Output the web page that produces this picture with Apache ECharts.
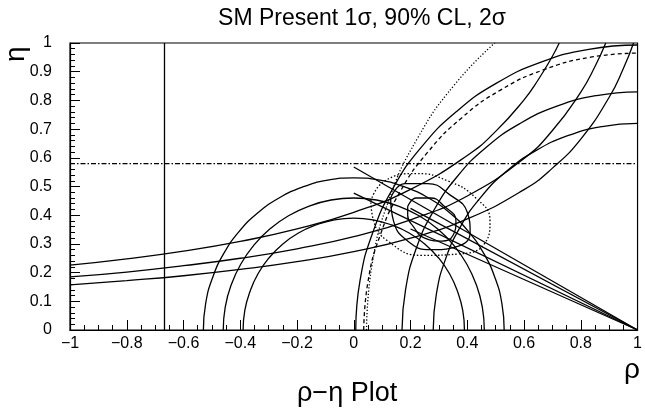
<!DOCTYPE html>
<html><head><meta charset="utf-8">
<script src="https://cdn.jsdelivr.net/npm/echarts@6/dist/echarts.min.js"></script>
<style>html,body{margin:0;padding:0;background:#fff}#c{width:645px;height:417px}</style>
</head><body><div id="c"></div>
<script>
// tick labels
const xTicks = [-1,-0.8,-0.6,-0.4,-0.2,0,0.2,0.4,0.6,0.8,1];
const yTicks = [0,0.1,0.2,0.3,0.4,0.5,0.6,0.7,0.8,0.9,1];
// |Vub/Vcb| circles around (0,0)
const vub1 = [[0.39,0],[0.384,0.068],[0.366,0.133],[0.338,0.195],[0.299,0.251],[0.251,0.299],[0.195,0.338],[0.133,0.366],[0.068,0.384],[0,0.39],[-0.068,0.384],[-0.133,0.366],[-0.195,0.338],[-0.251,0.299],[-0.299,0.251],[-0.338,0.195],[-0.366,0.133],[-0.384,0.068],[-0.39,0]];
const vub2 = [[0.46,0],[0.453,0.08],[0.432,0.157],[0.398,0.23],[0.352,0.296],[0.296,0.352],[0.23,0.398],[0.157,0.432],[0.08,0.453],[0,0.46],[-0.08,0.453],[-0.157,0.432],[-0.23,0.398],[-0.296,0.352],[-0.352,0.296],[-0.398,0.23],[-0.432,0.157],[-0.453,0.08],[-0.46,0]];
const vub3 = [[0.53,0],[0.522,0.092],[0.498,0.181],[0.459,0.265],[0.406,0.341],[0.341,0.406],[0.265,0.459],[0.181,0.498],[0.092,0.522],[0,0.53],[-0.092,0.522],[-0.181,0.498],[-0.265,0.459],[-0.341,0.406],[-0.406,0.341],[-0.459,0.265],[-0.498,0.181],[-0.522,0.092],[-0.53,0]];
// Delta m_d circles around (1,0)
const dmd1 = [[0.28,0],[0.291,0.125],[0.323,0.246],[0.376,0.36],[0.448,0.463],[0.537,0.552],[0.64,0.624],[0.754,0.677],[0.875,0.709],[1,0.72]];
const dmd2 = [[0.17,0],[0.183,0.144],[0.22,0.284],[0.281,0.415],[0.364,0.534],[0.466,0.636],[0.585,0.719],[0.716,0.78],[0.856,0.817],[1,0.83]];
const dmd3 = [[0.007,0],[0.022,0.172],[0.067,0.34],[0.14,0.497],[0.239,0.638],[0.362,0.761],[0.503,0.86],[0.66,0.933],[0.828,0.978],[1,0.993]];
const dmdDashed = [[0.035,0],[0.05,0.168],[0.093,0.33],[0.164,0.483],[0.261,0.62],[0.38,0.739],[0.517,0.836],[0.67,0.907],[0.832,0.95],[1,0.965]];
const dmsDotted = [[0.045,0],[0.065,0.231],[0.125,0.456],[0.224,0.667],[0.357,0.857],[0.497,1.0]];
// epsilon_K hyperbolas
const epsK1 = [[-1,0.226],[-0.8,0.248],[-0.6,0.275],[-0.4,0.309],[-0.2,0.352],[0,0.41],[0.2,0.49],[0.4,0.608],[0.5,0.692],[0.6,0.802],[0.65,0.872],[0.7,0.954],[0.724,1.0]];
const epsK2 = [[-1,0.185],[-0.8,0.202],[-0.6,0.224],[-0.4,0.25],[-0.2,0.283],[0,0.325],[0.2,0.384],[0.4,0.467],[0.6,0.598],[0.7,0.695],[0.8,0.829],[0.85,0.918],[0.888,1.0]];
const epsK3 = [[-1,0.157],[-0.8,0.172],[-0.6,0.189],[-0.4,0.211],[-0.2,0.238],[0,0.273],[0.2,0.32],[0.4,0.387],[0.6,0.489],[0.7,0.564],[0.8,0.665],[0.9,0.811],[0.95,0.911],[0.986,1.0]];
// sin2beta lines from (1,0)
const sb1 = [[0.0,0.568],[1,0]];
const sb2 = [[0.0,0.477],[1,0]];
const sb3 = [[0.2,0.424],[1,0]];
const sb4 = [[0.2,0.352],[1,0]];
// vertical and horizontal limits
const vLine = [[-0.667,0],[-0.667,1]];
const hLine = [[-1,0.58],[1,0.58]];
// fit contours
const cont1 = [[0.19,0.43],[0.22,0.46],[0.27,0.46],[0.32,0.43],[0.36,0.38],[0.35,0.33],[0.31,0.31],[0.25,0.32],[0.21,0.36],[0.19,0.40],[0.19,0.43]];
const cont2 = [[0.13,0.46],[0.18,0.51],[0.26,0.51],[0.34,0.47],[0.40,0.41],[0.41,0.34],[0.36,0.29],[0.27,0.28],[0.19,0.31],[0.14,0.38],[0.13,0.46]];
const cont3 = [[0.06,0.45],[0.11,0.52],[0.22,0.545],[0.33,0.52],[0.43,0.46],[0.48,0.38],[0.46,0.3],[0.37,0.265],[0.24,0.26],[0.12,0.31],[0.07,0.38],[0.06,0.45]];

const W = 1.3;
function ln(data, type, smooth){
  return {type:'line', data:data, showSymbol:false, smooth:smooth||false, silent:true,
    lineStyle:{color:'#000', width:W, type:type||'solid'}, animation:false};
}
const fmt = v => { const s = (Math.round(v*10)/10).toString(); return s.replace('-', '\u2212'); };
const chart = echarts.init(document.getElementById('c'));
chart.setOption({
  backgroundColor:'#fff',
  animation:false,
  title:{text:'SM Present 1\u03c3, 90% CL, 2\u03c3', left:357, textAlign:'center', top:2,
    textStyle:{fontFamily:'Liberation Sans', fontWeight:'normal', fontSize:23, color:'#000'}},
  grid:{left:70, right:3, top:43, bottom:87, show:true, borderColor:'#000', borderWidth:1.2, backgroundColor:'transparent'},
  xAxis:{type:'value', min:-1, max:1, interval:0.2,
    axisLine:{show:true, onZero:false, lineStyle:{color:'#000', width:1.2}},
    axisTick:{show:true, inside:true, length:10, lineStyle:{color:'#000'}},
    minorTick:{show:true, splitNumber:4, length:5, lineStyle:{color:'#000'}},
    splitLine:{show:false},
    axisLabel:{color:'#000', fontFamily:'Liberation Sans', fontSize:16, margin:6, formatter:fmt, showMaxLabel:true}},
  yAxis:{type:'value', min:0, max:1, interval:0.1,
    axisLine:{show:true, onZero:false, lineStyle:{color:'#000', width:1.2}},
    axisTick:{show:true, inside:true, length:10, lineStyle:{color:'#000'}},
    minorTick:{show:true, splitNumber:5, length:5, lineStyle:{color:'#000'}},
    splitLine:{show:false},
    axisLabel:{color:'#000', fontFamily:'Liberation Sans', fontSize:16, margin:18, formatter:fmt}},
  graphic:[
    {type:'text', left:624, top:356, style:{text:'\u03c1', font:'28px "Liberation Sans"', fill:'#000'}},
    {type:'text', left:297, top:380, style:{text:'\u03c1\u2212\u03b7 Plot', font:'27px "Liberation Sans"', fill:'#000'}},
    {type:'text', x:2, y:62, rotation:Math.PI/2, style:{text:'\u03b7', font:'28px "Liberation Sans"', fill:'#000'}}
  ],
  series:[
    ln(vLine), ln(hLine,[5,2,1.5,2]),
    ln(vub1,'solid',true), ln(vub2,'solid',true), ln(vub3,'solid',true),
    ln(dmd1,'solid',true), ln(dmd2,'solid',true), ln(dmd3,'solid',true),
    ln(dmdDashed,[4,3],true), ln(dmsDotted,[1.2,2],true),
    ln(epsK1,'solid',true), ln(epsK2,'solid',true), ln(epsK3,'solid',true),
    ln(sb1), ln(sb2), ln(sb3), ln(sb4),
    ln(cont1,'solid',true), ln(cont2,'solid',true), ln(cont3,[1.5,2],true)
  ]
});
</script></body></html>
